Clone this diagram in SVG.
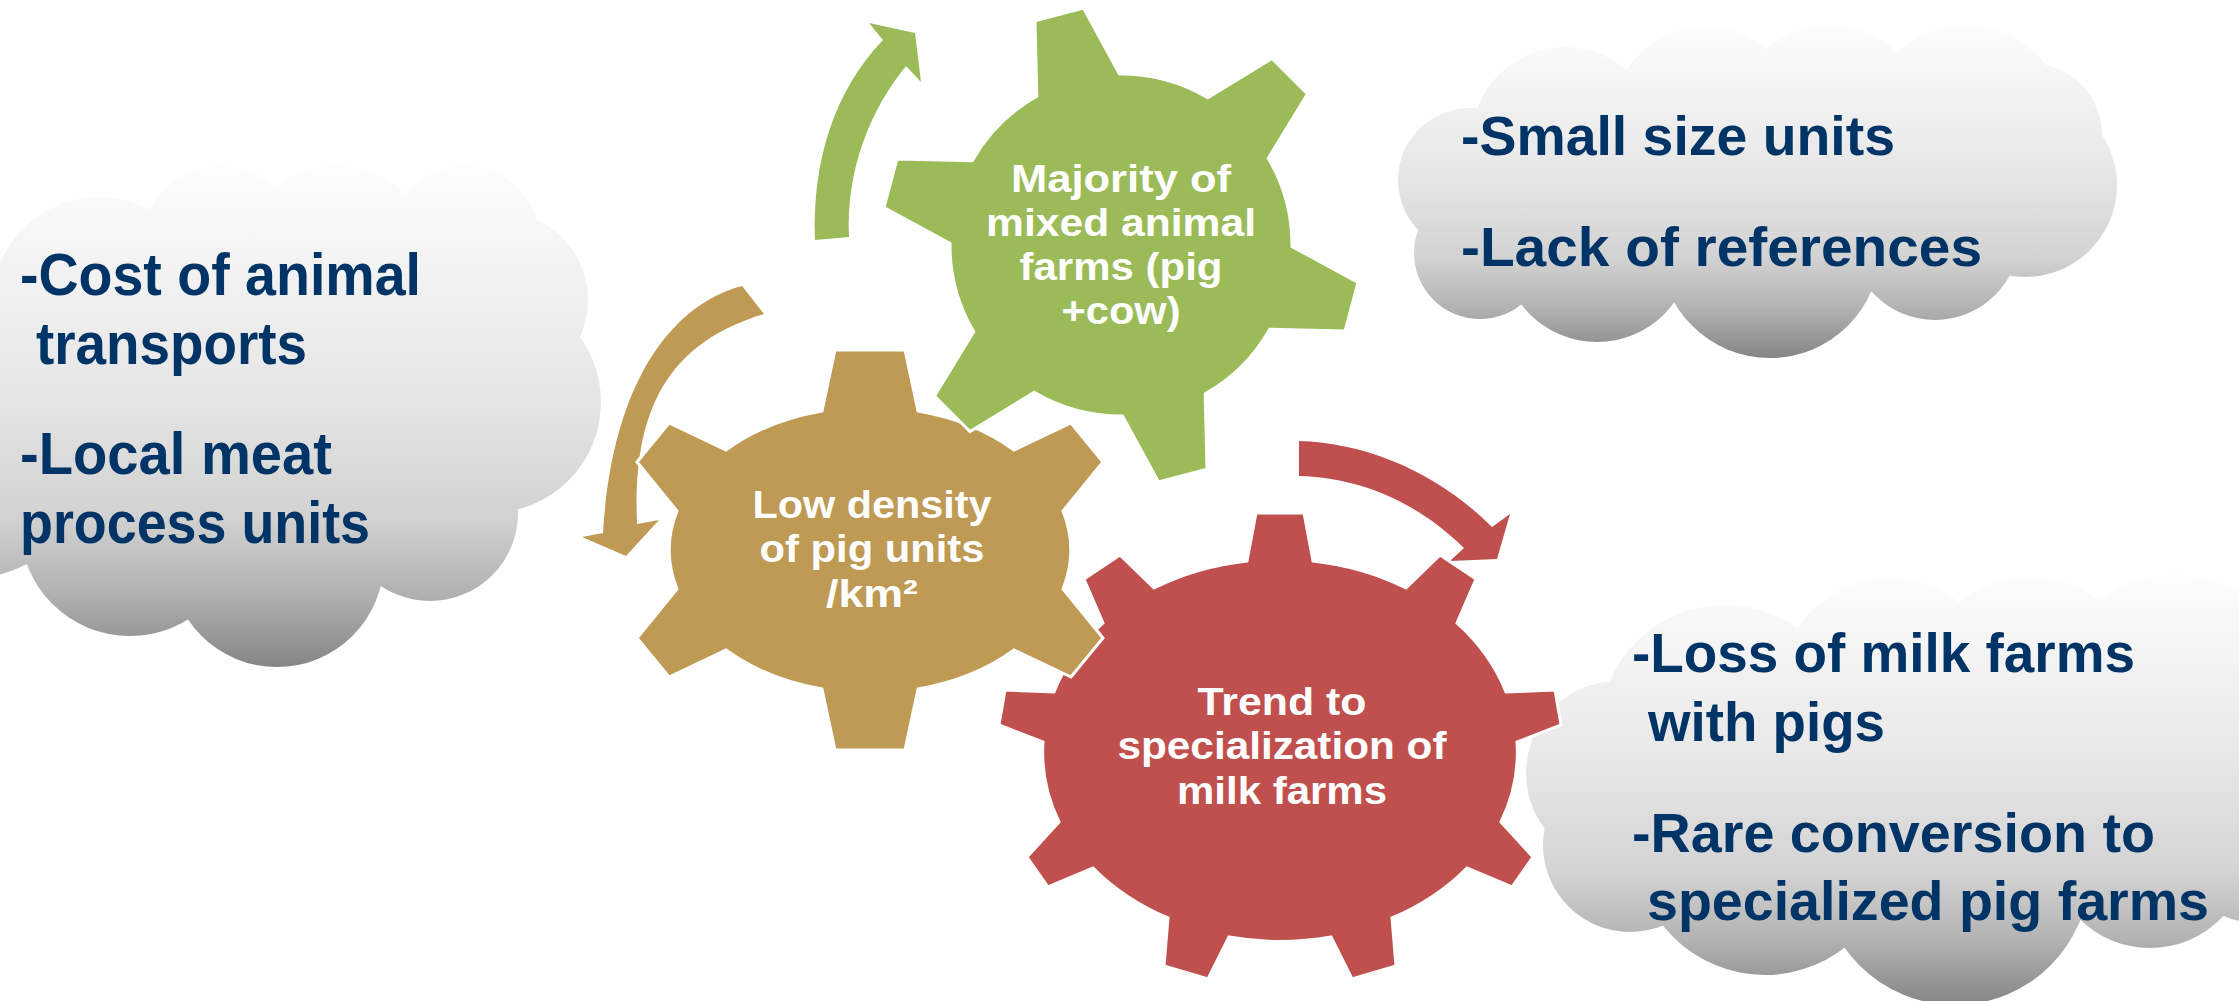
<svg xmlns="http://www.w3.org/2000/svg" width="2239" height="1001" viewBox="0 0 2239 1001">
<defs>
<linearGradient id="cloudGrad" x1="0" y1="0" x2="0" y2="1">
<stop offset="0" stop-color="#fdfdfd"/>
<stop offset="0.45" stop-color="#e6e6e6"/>
<stop offset="0.7" stop-color="#d2d2d2"/>
<stop offset="0.85" stop-color="#b2b2b2"/>
<stop offset="1" stop-color="#858585"/>
</linearGradient>
<style>
.cloud { fill: url(#cloudGrad); }
.ct { font-family: "Liberation Sans", Arial, sans-serif; font-weight: 700; fill: #003366; }
.gt { font-family: "Liberation Sans", Arial, sans-serif; font-weight: 700; font-size: 38px; fill: #ffffff; text-anchor: middle; }
.gear { stroke: #ffffff; stroke-width: 3; }
.green { fill: #9bbb59; }
.tan { fill: #be9a55; }
.red { fill: #c0504d; }
</style>
</defs>
<rect width="2239" height="1001" fill="#ffffff"/>

<g id="cloud-left">
<path class="cloud" d="M-8,304 a107,107 0 1,0 214,0 a107,107 0 1,0 -214,0 Z
M141,246 a80,80 0 1,0 160,0 a80,80 0 1,0 -160,0 Z
M236,266 a100,100 0 1,0 200,0 a100,100 0 1,0 -200,0 Z
M390,241 a75,75 0 1,0 150,0 a75,75 0 1,0 -150,0 Z
M412,300 a88,88 0 1,0 176,0 a88,88 0 1,0 -176,0 Z
M379,402 a111,111 0 1,0 222,0 a111,111 0 1,0 -222,0 Z
M342,513 a88,88 0 1,0 176,0 a88,88 0 1,0 -176,0 Z
M170,560 a107,107 0 1,0 214,0 a107,107 0 1,0 -214,0 Z
M20,526 a110,110 0 1,0 220,0 a110,110 0 1,0 -220,0 Z
M-190,430 a150,150 0 1,0 300,0 a150,150 0 1,0 -300,0 Z
M60,400 a230,160 0 1,0 460,0 a230,160 0 1,0 -460,0 Z"/>
<text class="ct" font-size="60" x="20" y="295" textLength="401" lengthAdjust="spacingAndGlyphs">-Cost of animal</text>
<text class="ct" font-size="60" x="36" y="364" textLength="271" lengthAdjust="spacingAndGlyphs">transports</text>
<text class="ct" font-size="60" x="20" y="474" textLength="312" lengthAdjust="spacingAndGlyphs">-Local meat</text>
<text class="ct" font-size="60" x="20" y="543" textLength="350" lengthAdjust="spacingAndGlyphs">process units</text>
</g>

<g id="cloud-top-right">
<path class="cloud" d="M1472,140 a93,93 0 1,0 186,0 a93,93 0 1,0 -186,0 Z
M1611,122 a95,95 0 1,0 190,0 a95,95 0 1,0 -190,0 Z
M1735,120 a95,95 0 1,0 190,0 a95,95 0 1,0 -190,0 Z
M1866,125 a100,100 0 1,0 200,0 a100,100 0 1,0 -200,0 Z
M1958,135 a72,72 0 1,0 144,0 a72,72 0 1,0 -144,0 Z
M1933,185 a92,92 0 1,0 184,0 a92,92 0 1,0 -184,0 Z
M1850,235 a85,85 0 1,0 170,0 a85,85 0 1,0 -170,0 Z
M1660,248 a110,110 0 1,0 220,0 a110,110 0 1,0 -220,0 Z
M1502,247 a95,95 0 1,0 190,0 a95,95 0 1,0 -190,0 Z
M1414,253 a66,66 0 1,0 132,0 a66,66 0 1,0 -132,0 Z
M1398,180 a72,72 0 1,0 144,0 a72,72 0 1,0 -144,0 Z
M1470,190 a290,110 0 1,0 580,0 a290,110 0 1,0 -580,0 Z"/>
<text class="ct" font-size="56" x="1461" y="155" textLength="434" lengthAdjust="spacingAndGlyphs">-Small size units</text>
<text class="ct" font-size="56" x="1461" y="266" textLength="521" lengthAdjust="spacingAndGlyphs">-Lack of references</text>
</g>

<g id="cloud-bottom-right">
<path class="cloud" d="M1600,730 a125,125 0 1,0 250,0 a125,125 0 1,0 -250,0 Z
M1780,688 a110,110 0 1,0 220,0 a110,110 0 1,0 -220,0 Z
M1917,690 a113,113 0 1,0 226,0 a113,113 0 1,0 -226,0 Z
M2050,700 a125,125 0 1,0 250,0 a125,125 0 1,0 -250,0 Z
M1526,773 a92,92 0 1,0 184,0 a92,92 0 1,0 -184,0 Z
M1543,845 a87,87 0 1,0 174,0 a87,87 0 1,0 -174,0 Z
M1635,845 a130,130 0 1,0 260,0 a130,130 0 1,0 -260,0 Z
M1820,870 a135,135 0 1,0 270,0 a135,135 0 1,0 -270,0 Z
M2050,848 a100,100 0 1,0 200,0 a100,100 0 1,0 -200,0 Z
M2145,800 a125,125 0 1,0 250,0 a125,125 0 1,0 -250,0 Z
M1590,790 a290,150 0 1,0 580,0 a290,150 0 1,0 -580,0 Z"/>
<text class="ct" font-size="56" x="1632" y="672" textLength="503" lengthAdjust="spacingAndGlyphs">-Loss of milk farms</text>
<text class="ct" font-size="56" x="1648" y="741" textLength="237" lengthAdjust="spacingAndGlyphs">with pigs</text>
<text class="ct" font-size="56" x="1632" y="852" textLength="523" lengthAdjust="spacingAndGlyphs">-Rare conversion to</text>
<text class="ct" font-size="56" x="1647" y="920" textLength="562" lengthAdjust="spacingAndGlyphs">specialized pig farms</text>
</g>

<g id="connectors">
<path class="green" d="M815,240 C812,160 835,90 883,40 L869,23 L915,33 L921,82 L906,66 C870,110 846,170 849,237 Z"/>
<path class="tan" d="M742,286 C670,305 612,385 603,533 L582,537 L626,556 L659,520 L637,524 C633,420 660,345 764,314 Z"/>
<path class="red" d="M1299,441 C1370,443 1440,475 1492,527 L1510,514 L1497,559 L1450,561 L1464,548 C1420,505 1365,478 1299,476 Z"/>
</g>

<g id="gear-red">
<path class="gear red" d="M1247,561 L1256,513 L1304,513 L1313,561 A238,191 0 0,1 1406,588 L1440,555 L1476,579 L1457,623 A238,191 0 0,1 1506,692 L1555,690 L1561,725 L1517,742 A238,191 0 0,1 1501,822 L1533,857 L1512,887 L1467,868 A238,191 0 0,1 1392,918 L1396,966 L1352,979 L1331,937 A238,191 0 0,1 1229,937 L1208,979 L1164,966 L1168,918 A238,191 0 0,1 1093,868 L1048,887 L1027,857 L1059,822 A238,191 0 0,1 1043,742 L999,725 L1005,690 L1054,692 A238,191 0 0,1 1103,623 L1084,579 L1120,555 L1154,588 A238,191 0 0,1 1247,561 Z"/>
<text class="gt" x="1282" y="715" textLength="169" lengthAdjust="spacingAndGlyphs">Trend to</text>
<text class="gt" x="1282" y="759" textLength="329" lengthAdjust="spacingAndGlyphs">specialization of</text>
<text class="gt" x="1282" y="804" textLength="210" lengthAdjust="spacingAndGlyphs">milk farms</text>
</g>

<g id="gear-tan">
<path class="gear tan" d="M822,411 L835,350 L905,350 L918,411 A200,142 0 0,1 1014,450 L1071,423 L1103,462 L1063,511 A200,142 0 0,1 1063,589 L1103,638 L1071,677 L1014,650 A200,142 0 0,1 918,689 L905,750 L835,750 L822,689 A200,142 0 0,1 726,650 L669,677 L637,638 L677,589 A200,142 0 0,1 677,511 L637,462 L669,423 L726,450 A200,142 0 0,1 822,411 Z"/>
<text class="gt" x="872" y="518" textLength="239" lengthAdjust="spacingAndGlyphs">Low density</text>
<text class="gt" x="872" y="562" textLength="225" lengthAdjust="spacingAndGlyphs">of pig units</text>
<text class="gt" x="872" y="607" textLength="92" lengthAdjust="spacingAndGlyphs">/km²</text>
</g>

<g id="gear-green">
<path class="gear green" d="M1036.8,96.2 L1035,20.9 L1083.5,8 L1119.5,74 A171,171 0 0,1 1207.8,97.7 L1272,58.5 L1307.5,94 L1268.3,158.2 A171,171 0 0,1 1292,246.5 L1358,282.5 L1345.1,331 L1269.8,329.2 A171,171 0 0,1 1205.2,393.8 L1207,469.1 L1158.5,482 L1122.5,416 A171,171 0 0,1 1034.2,392.3 L970,431.5 L934.5,396 L973.7,331.8 A171,171 0 0,1 950,243.5 L884,207.5 L896.9,159 L972.2,160.8 A171,171 0 0,1 1036.8,96.2 Z"/>
<text class="gt" x="1121" y="192" textLength="220" lengthAdjust="spacingAndGlyphs">Majority of</text>
<text class="gt" x="1121" y="236" textLength="270" lengthAdjust="spacingAndGlyphs">mixed animal</text>
<text class="gt" x="1121" y="280" textLength="203" lengthAdjust="spacingAndGlyphs">farms (pig</text>
<text class="gt" x="1121" y="324" textLength="119" lengthAdjust="spacingAndGlyphs">+cow)</text>
</g>
</svg>
